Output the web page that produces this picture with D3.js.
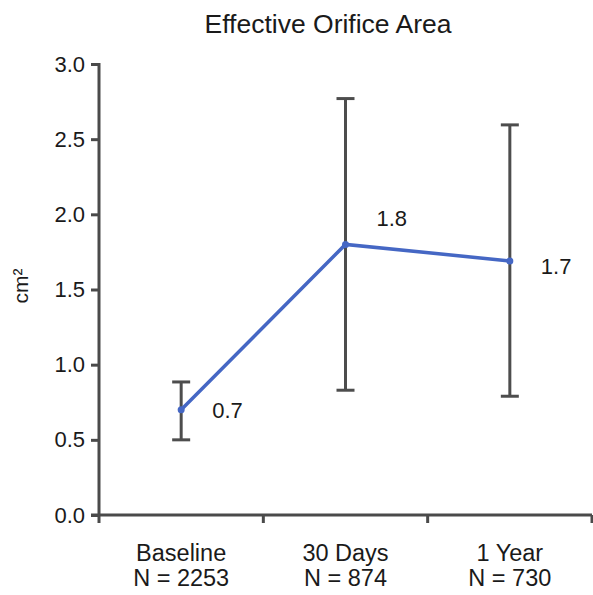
<!DOCTYPE html>
<html>
<head>
<meta charset="utf-8">
<script src="https://cdn.jsdelivr.net/npm/d3@7"></script>
<style>
  body { margin: 0; background: #fff; }
  text { font-family: "Liberation Sans", Arial, sans-serif; fill: #1a1a1a; }
</style>
</head>
<body>
<div class="chart"></div>
<script>
const categories = ["Baseline", "30 Days", "1 Year"];
const sampleSizes = ["N = 2253", "N = 874", "N = 730"];
const means = [0.70, 1.80, 1.69];
const lower = [0.50, 0.83, 0.79];
const upper = [0.885, 2.77, 2.595];
const valueLabels = ["0.7", "1.8", "1.7"];
const yTicks = [0, 0.5, 1.0, 1.5, 2.0, 2.5, 3.0];

const w = 593;
const h = 595;
const plotLeft = 99, plotRight = 592, plotTop = 64, plotBottom = 515;

const svg = d3.select(".chart")
    .append("svg")
    .attr("width", w)
    .attr("height", h);

const xScale = d3.scaleBand()
    .domain(categories)
    .range([plotLeft, plotRight])
    .padding(0);

const yScale = d3.scaleLinear()
    .domain([0, 3])
    .range([plotBottom, plotTop]);

const cx = (d) => xScale(d) + xScale.bandwidth() / 2;
const axisColor = "#4a4a4a";

// title
svg.append("text")
    .attr("x", 328)
    .attr("y", 33)
    .attr("text-anchor", "middle")
    .style("font-size", "26.5px")
    .text("Effective Orifice Area");

// y axis
const yAxis = d3.axisLeft(yScale)
    .tickValues(yTicks)
    .tickFormat(d3.format(".1f"))
    .tickSize(8)
    .tickPadding(6);

const gy = svg.append("g")
    .attr("transform", `translate(${plotLeft},0)`)
    .call(yAxis);
gy.select(".domain").remove();
gy.selectAll(".tick line").attr("stroke", axisColor).attr("stroke-width", 3);
gy.selectAll(".tick text")
    .style("font-size", "22px")
    .style("font-family", "'Liberation Sans', Arial, sans-serif")
    .attr("fill", "#1a1a1a");
gy.append("line")
    .attr("x1", 0).attr("x2", 0)
    .attr("y1", yScale(3) - 1).attr("y2", plotBottom + 8)
    .attr("stroke", axisColor).attr("stroke-width", 3);

// x axis
svg.append("line")
    .attr("x1", plotLeft - 8).attr("x2", plotRight)
    .attr("y1", plotBottom).attr("y2", plotBottom)
    .attr("stroke", axisColor).attr("stroke-width", 3);

svg.selectAll(".xtick")
    .data(categories)
    .enter()
    .append("line")
    .attr("class", "xtick")
    .attr("x1", (d) => xScale(d) + xScale.bandwidth())
    .attr("x2", (d) => xScale(d) + xScale.bandwidth())
    .attr("y1", plotBottom)
    .attr("y2", plotBottom + 8)
    .attr("stroke", axisColor)
    .attr("stroke-width", 3);

const xLabels = svg.selectAll(".xlabel")
    .data(categories)
    .enter()
    .append("text")
    .attr("class", "xlabel")
    .attr("text-anchor", "middle")
    .style("font-size", "23.5px");
xLabels.append("tspan")
    .attr("x", (d) => cx(d))
    .attr("y", 561)
    .text((d) => d);
xLabels.append("tspan")
    .attr("x", (d) => cx(d))
    .attr("y", 586)
    .text((d, i) => sampleSizes[i]);

// y label
svg.append("text")
    .attr("transform", "translate(28,286) rotate(-90)")
    .attr("text-anchor", "middle")
    .style("font-size", "21px")
    .text("cm²");

// error bars
const capW = 9;
const eb = svg.selectAll(".errbar")
    .data(categories)
    .enter()
    .append("g")
    .attr("class", "errbar")
    .attr("stroke", "#4d4d4d")
    .attr("stroke-width", 3);
eb.append("line")
    .attr("x1", (d) => cx(d)).attr("x2", (d) => cx(d))
    .attr("y1", (d, i) => yScale(lower[i]))
    .attr("y2", (d, i) => yScale(upper[i]));
eb.append("line")
    .attr("x1", (d) => cx(d) - capW).attr("x2", (d) => cx(d) + capW)
    .attr("y1", (d, i) => yScale(upper[i]))
    .attr("y2", (d, i) => yScale(upper[i]));
eb.append("line")
    .attr("x1", (d) => cx(d) - capW).attr("x2", (d) => cx(d) + capW)
    .attr("y1", (d, i) => yScale(lower[i]))
    .attr("y2", (d, i) => yScale(lower[i]));

// mean line
const line = d3.line()
    .x((d, i) => cx(categories[i]))
    .y((d) => yScale(d));

svg.append("path")
    .datum(means)
    .attr("d", line)
    .attr("fill", "none")
    .attr("stroke", "#4567c4")
    .attr("stroke-width", 3.5);

svg.selectAll(".pt")
    .data(means)
    .enter()
    .append("circle")
    .attr("class", "pt")
    .attr("cx", (d, i) => cx(categories[i]))
    .attr("cy", (d) => yScale(d))
    .attr("r", 3.5)
    .attr("fill", "#4567c4");

// value labels
const labelDy = [8, -18, 13];
svg.selectAll(".vlabel")
    .data(means)
    .enter()
    .append("text")
    .attr("class", "vlabel")
    .attr("x", (d, i) => cx(categories[i]) + 31)
    .attr("y", (d, i) => yScale(d) + labelDy[i])
    .style("font-size", "22px")
    .text((d, i) => valueLabels[i]);
</script>
</body>
</html>
